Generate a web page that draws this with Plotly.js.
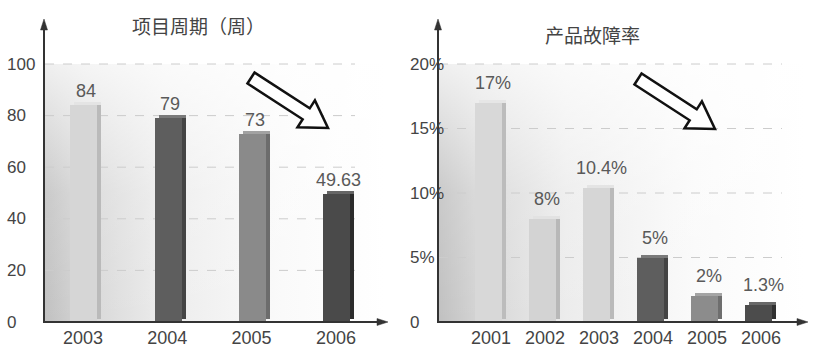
<!DOCTYPE html>
<html>
<head>
<meta charset="utf-8">
<script src="https://cdn.plot.ly/plotly-3.0.1.min.js"></script>
<style>html,body{margin:0;padding:0;background:#fff;}#chart{width:818px;height:353px;}</style>
</head>
<body>
<div id="chart"></div>
<script>
// ---- data ----
const cycleYears = ['2003', '2004', '2005', '2006'];
const cycleWeeks = [84, 79, 73, 49.63];
const cycleLabels = ['84', '79', '73', '49.63'];
const cycleTicks = [0, 20, 40, 60, 80, 100];
const cycleTickText = ['0', '20', '40', '60', '80', '100'];
const cycleTitle = '项目周期（周）';

const faultYears = ['2001', '2002', '2003', '2004', '2005', '2006'];
const faultRates = [17, 8, 10.4, 5, 2, 1.3];
const faultLabels = ['17%', '8%', '10.4%', '5%', '2%', '1.3%'];
const faultTicks = [0, 5, 10, 15, 20];
const faultTickText = ['0', '5%', '10%', '15%', '20%'];
const faultTitle = '产品故障率';

// ---- styles ----
const cycleFront = ['#d6d6d6', '#5e5e5e', '#8a8a8a', '#4a4a4a'];
const cycleSide  = ['#bababa', '#444444', '#6c6c6c', '#2c2c2c'];
const cycleTop   = ['#e4e4e4', '#7a7a7a', '#a2a2a2', '#666666'];
const faultFront = ['#d8d8d8', '#d3d3d3', '#d6d6d6', '#5e5e5e', '#8c8c8c', '#4c4c4c'];
const faultSide  = ['#bcbcbc', '#b8b8b8', '#bababa', '#444444', '#6e6e6e', '#303030'];
const faultTop   = ['#e6e6e6', '#e2e2e2', '#e4e4e4', '#7a7a7a', '#a4a4a4', '#686868'];

const W = 818, H = 353;
const PX = x => x / W;
const PY = y => 1 - y / H;

// axis geometry (pixels)
const axBottom = 322, axTop = 22;
const L = {x0: 44, x1: 386, xTip: 388, catPx0: 83, catStep: 84.3, pxPerUnit: 2.58, gridX1: 355, barW: 27, sideW: 4};
const R = {x0: 438, x1: 806, xTip: 808, catPx0: 491, catStep: 54, pxPerUnit: 12.9, gridX1: 782, barW: 27, sideW: 4};
const depthPx = 3;

function geo(g) {
  const yMax = (axBottom - axTop) / g.pxPerUnit;
  const xr = [(g.x0 - g.catPx0) / g.catStep, (g.x1 - g.catPx0) / g.catStep];
  return {
    yRange: [0, yMax],
    xRange: xr,
    w: g.barW / g.catStep,
    sw: g.sideW / g.catStep,
    d: depthPx / g.pxPerUnit
  };
}
const gl = geo(L), gr = geo(R);

function barTraces(x, y, front, side, top, g, xa, ya, shift) {
  const off = -g.w / 2 + shift;
  return [
    {type: 'bar', x: x, y: y, xaxis: xa, yaxis: ya, width: g.w, offset: off,
     marker: {color: front, line: {width: 0}}, hoverinfo: 'skip'},
    {type: 'bar', x: x, y: y, base: y.map(() => g.d), xaxis: xa, yaxis: ya, width: g.sw, offset: off + g.w,
     marker: {color: side, line: {width: 0}}, hoverinfo: 'skip'},
    {type: 'bar', x: x, y: y.map(() => g.d), base: y, xaxis: xa, yaxis: ya, width: g.w, offset: off + g.sw,
     marker: {color: top, line: {width: 0}}, hoverinfo: 'skip'}
  ];
}

const data = [].concat(
  barTraces(cycleYears, cycleWeeks, cycleFront, cycleSide, cycleTop, gl, 'x', 'y', 0.01),
  barTraces(faultYears, faultRates, faultFront, faultSide, faultTop, gr, 'x2', 'y2', -0.05)
);

const textCol = '#444';
const fontFam = 'Liberation Sans, Arial, sans-serif';
const cjkFam = 'Noto Sans CJK SC, sans-serif';

const yDomain = [PY(axBottom), PY(axTop)];
const layout = {
  width: W, height: H,
  margin: {l: 0, r: 0, t: 0, b: 0},
  paper_bgcolor: '#ffffff', plot_bgcolor: 'rgba(0,0,0,0)',
  showlegend: false, barmode: 'overlay', bargap: 0,
  font: {family: fontFam, color: textCol, size: 17},
  xaxis: {domain: [PX(L.x0), PX(L.x1)], type: 'category', range: gl.xRange, showgrid: false, zeroline: false,
          showline: false, ticks: '', tickfont: {size: 18, color: textCol, family: fontFam}, ticklabelstandoff: 3, fixedrange: true},
  yaxis: {domain: yDomain, range: gl.yRange, showgrid: false, zeroline: false, showline: false, showticklabels: false, fixedrange: true},
  xaxis2: {domain: [PX(R.x0), PX(R.x1)], type: 'category', range: gr.xRange, showgrid: false, zeroline: false,
           showline: false, ticks: '', tickfont: {size: 18, color: textCol, family: fontFam}, ticklabelstandoff: 3, anchor: 'y2', fixedrange: true},
  yaxis2: {domain: yDomain, range: gr.yRange, showgrid: false, zeroline: false, showline: false, showticklabels: false, anchor: 'x2', fixedrange: true},
  shapes: [], annotations: [], images: []
};

// background gradient
const svgBg = '<svg xmlns="http://www.w3.org/2000/svg" width="100" height="100" viewBox="0 0 100 100" preserveAspectRatio="none">' +
  '<defs><linearGradient id="h" x1="0" y1="0" x2="1" y2="0">' +
  '<stop offset="0" stop-color="#c0c0c0"/><stop offset="0.12" stop-color="#d6d6d6"/><stop offset="0.35" stop-color="#ececec"/><stop offset="0.7" stop-color="#fafafa"/><stop offset="1" stop-color="#ffffff"/></linearGradient>' +
  '<linearGradient id="v" x1="0" y1="0" x2="0" y2="1"><stop offset="0" stop-color="#ffffff" stop-opacity="0.75"/><stop offset="0.5" stop-color="#ffffff" stop-opacity="0.15"/><stop offset="1" stop-color="#ffffff" stop-opacity="0"/></linearGradient></defs>' +
  '<rect width="100" height="100" fill="url(#h)"/><rect width="100" height="100" fill="url(#v)"/></svg>';
const bgSrc = 'data:image/svg+xml;charset=utf-8,' + encodeURIComponent(svgBg);
[[L.x0, L.x1 - 2], [R.x0, R.x1 - 2]].forEach(([a, b]) => {
  layout.images.push({source: bgSrc, xref: 'paper', yref: 'paper', x: PX(a), y: PY(64), sizex: PX(b) - PX(a), sizey: (322 - 64) / H,
    sizing: 'stretch', xanchor: 'left', yanchor: 'top', layer: 'below'});
});

// dashed gridlines
function grid(ticks, yref, x0, x1) {
  ticks.filter(t => t > 0).forEach(t => {
    layout.shapes.push({type: 'line', xref: 'paper', yref: yref, x0: PX(x0), x1: PX(x1), y0: t, y1: t,
      line: {color: '#cccccc', width: 1, dash: 'dash'}, layer: 'below'});
  });
}
grid(cycleTicks, 'y', L.x0 + 1, L.gridX1);
grid(faultTicks, 'y2', R.x0 + 1, R.gridX1);

// axes with arrows
function axisArrows(g) {
  const c = '#333333';
  layout.shapes.push({type: 'line', xref: 'paper', yref: 'paper', x0: PX(g.x0), x1: PX(g.x0), y0: PY(axBottom + 1), y1: PY(axTop + 6), line: {color: c, width: 2}});
  layout.shapes.push({type: 'line', xref: 'paper', yref: 'paper', x0: PX(g.x0), x1: PX(g.xTip - 6), y0: PY(axBottom), y1: PY(axBottom), line: {color: c, width: 2}});
  const up = `M ${PX(g.x0)} ${PY(axTop - 3)} L ${PX(g.x0 - 3.5)} ${PY(axTop + 8)} L ${PX(g.x0 + 3.5)} ${PY(axTop + 8)} Z`;
  const rt = `M ${PX(g.xTip)} ${PY(axBottom)} L ${PX(g.xTip - 11)} ${PY(axBottom - 3.5)} L ${PX(g.xTip - 11)} ${PY(axBottom + 3.5)} Z`;
  [up, rt].forEach(p => layout.shapes.push({type: 'path', xref: 'paper', yref: 'paper', path: p, fillcolor: c, line: {color: c, width: 0.5}}));
}
axisArrows(L); axisArrows(R);

// hollow trend arrows
function bigArrow(tx, ty, px, py, s, h, len) {
  const dx = px - tx, dy = py - ty, n = Math.hypot(dx, dy);
  const ux = dx / n, uy = dy / n, nx = -uy, ny = ux;
  const bx = px - ux * len, by = py - uy * len;
  const pts = [[tx + nx * s, ty + ny * s], [bx + nx * s, by + ny * s], [bx + nx * h, by + ny * h], [px, py],
               [bx - nx * h, by - ny * h], [bx - nx * s, by - ny * s], [tx - nx * s, ty - ny * s]];
  const path = 'M ' + pts.map(p => PX(p[0]) + ' ' + PY(p[1])).join(' L ') + ' Z';
  layout.shapes.push({type: 'path', xref: 'paper', yref: 'paper', path: path, fillcolor: '#ffffff', line: {color: '#111111', width: 2.5}});
}
bigArrow(251, 78, 328, 128, 6.5, 16, 26);
bigArrow(638, 79, 715, 129, 6.5, 16, 26);

// y tick labels (left-aligned)
function yLabels(ticks, texts, yref, xpx) {
  ticks.forEach((t, i) => layout.annotations.push({xref: 'paper', yref: yref, x: PX(xpx), y: t, text: texts[i], showarrow: false,
    xanchor: 'left', yanchor: 'middle', font: {size: 17, color: textCol, family: fontFam}}));
}
yLabels(cycleTicks, cycleTickText, 'y', 5);
yLabels(faultTicks, faultTickText, 'y2', 408);

// value labels (x = category index)
function valLabels(x, y, texts, xa, ya, yshift, xshift) {
  x.forEach((c, i) => layout.annotations.push({xref: xa, yref: ya, x: i, y: y[i], text: texts[i], showarrow: false,
    xanchor: 'center', yanchor: 'bottom', yshift: yshift, xshift: xshift, font: {size: 18, color: '#595959', family: fontFam}}));
}
valLabels(cycleYears, cycleWeeks, cycleLabels, 'x', 'y', 2, 3);
valLabels(faultYears, faultRates, faultLabels, 'x2', 'y2', 8, 2);

// titles
layout.annotations.push({xref: 'paper', yref: 'paper', x: PX(198), y: PY(26), text: cycleTitle, showarrow: false, xanchor: 'center', yanchor: 'middle',
  font: {size: 19, color: textCol, family: cjkFam}});
layout.annotations.push({xref: 'paper', yref: 'paper', x: PX(592), y: PY(35), text: faultTitle, showarrow: false, xanchor: 'center', yanchor: 'middle',
  font: {size: 19, color: textCol, family: cjkFam}});

Plotly.newPlot('chart', data, layout, {staticPlot: true, displayModeBar: false});
</script>
</body>
</html>
